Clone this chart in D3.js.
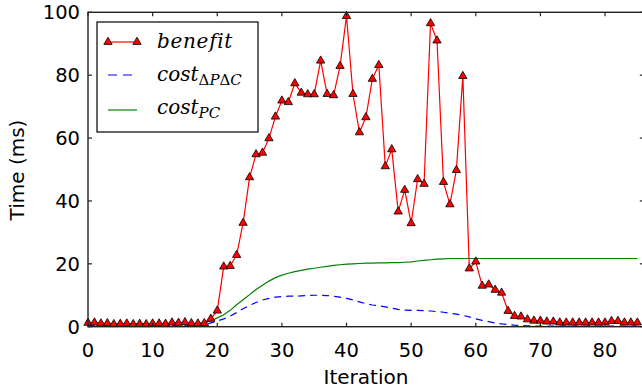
<!DOCTYPE html>
<html lang="en">
<head>
<meta charset="UTF-8">
<title>Time per iteration</title>
<script src="https://d3js.org/d3.v7.min.js"></script>
<style>
    body { margin: 0; background: #fff; }
    svg { display: block; }
    .tick-label { font-family: "DejaVu Sans", sans-serif; font-size: 19.5px; fill: #000; }
    .axis-title { font-family: "DejaVu Sans", sans-serif; font-size: 20px; fill: #000; }
    .legend-text { font-family: "DejaVu Serif", serif; font-style: italic; font-size: 20px; fill: #000; }
</style>
</head>
<body>
<div id="chart"></div>
<script>
    // iterations 0..85
    const iterations = d3.range(0, 86);

    const benefit = [
        1.2, 1.3, 1.0, 1.1, 0.8, 0.9, 1.0, 0.8, 0.9, 0.8, 1.0, 1.0, 0.9, 1.3, 1.2, 1.4, 1.1, 1.0, 1.1, 2.5,
        5.1, 19.1, 19.3, 22.8, 33.0, 47.5, 54.8, 55.3, 59.9, 66.8, 71.9, 71.4, 77.4, 74.4, 73.9, 73.9, 84.6, 74.0, 73.6, 82.9,
        98.8, 74.0, 61.8, 66.6, 78.8, 83.2, 51.0, 56.4, 36.6, 43.5, 32.9, 46.9, 45.4, 96.5, 91.0, 46.0, 38.9, 49.8, 79.7, 18.5,
        20.7, 13.0, 13.4, 11.7, 10.8, 5.0, 3.4, 3.2, 2.3, 1.9, 1.9, 1.6, 1.6, 1.3, 1.3, 1.3, 1.3, 1.3, 1.3, 1.3,
        1.3, 1.8, 1.8, 1.3, 1.3, 1.3
    ];

    const costDelta = [
        0.3, 0.3, 0.3, 0.3, 0.3, 0.3, 0.3, 0.3, 0.3, 0.3, 0.3, 0.3, 0.3, 0.3, 0.3, 0.3, 0.3, 0.3, 0.5, 1.2,
        1.8, 2.5, 3.4, 4.5, 5.7, 6.8, 7.7, 8.5, 9.0, 9.4, 9.6, 9.7, 9.7, 9.8, 9.9, 10.0, 10.0, 9.9, 9.7, 9.4,
        9.0, 8.5, 7.9, 7.3, 6.9, 6.7, 6.3, 5.9, 5.5, 5.3, 5.2, 5.2, 5.1, 5.0, 4.8, 4.6, 4.3, 4.0, 3.6, 3.1,
        2.5, 2.0, 1.6, 1.2, 0.9, 0.7, 0.5, 0.4, 0.3, 0.2, 0.2, 0.2, 0.2, 0.2, 0.2, 0.2, 0.2, 0.2, 0.2, 0.2,
        0.2, 0.2, 0.2, 0.2, 0.2, 0.2
    ];

    const costPC = [
        1.0, 1.0, 1.0, 1.0, 1.0, 1.0, 1.0, 1.0, 1.0, 1.0, 1.0, 1.0, 1.0, 1.0, 1.0, 1.0, 1.0, 1.1, 1.3, 1.8,
        2.8, 3.8, 5.2, 7.0, 8.6, 10.2, 11.8, 13.2, 14.5, 15.6, 16.4, 17.0, 17.5, 17.9, 18.3, 18.6, 18.9, 19.2, 19.5, 19.7,
        19.9, 20.0, 20.1, 20.2, 20.2, 20.3, 20.3, 20.4, 20.4, 20.5, 20.6, 20.9, 21.1, 21.3, 21.5, 21.6, 21.7, 21.7, 21.7, 21.7,
        21.7, 21.7, 21.7, 21.7, 21.7, 21.7, 21.7, 21.7, 21.7, 21.7, 21.7, 21.7, 21.7, 21.7, 21.7, 21.7, 21.7, 21.7, 21.7, 21.7,
        21.7, 21.7, 21.7, 21.7, 21.7, 21.7
    ];

    const xTicks = [0, 10, 20, 30, 40, 50, 60, 70, 80];
    const yTicks = [0, 20, 40, 60, 80, 100];

    const width = 642, height = 389;
    const pLeft = 88, pRight = 643.8, pTop = 12.3, pBottom = 326.7;

    const x = d3.scaleLinear().domain([0, 86]).range([pLeft, pRight]);
    const y = d3.scaleLinear().domain([0, 100]).range([pBottom, pTop]);

    const svg = d3.select("#chart").append("svg")
        .attr("width", width).attr("height", height);

    const line = series => d3.line()
        .x((d, i) => x(iterations[i]))
        .y(d => y(d))(series);

    // green cost_PC
    svg.append("path").attr("d", line(costPC))
        .attr("fill", "none").attr("stroke", "#008000").attr("stroke-width", 1.2);

    // blue dashed cost_dPdC
    svg.append("path").attr("d", line(costDelta))
        .attr("fill", "none").attr("stroke", "#0000ff").attr("stroke-width", 1.2)
        .attr("stroke-dasharray", "7,5");

    // red benefit with triangle markers
    svg.append("path").attr("d", line(benefit))
        .attr("fill", "none").attr("stroke", "#ff0000").attr("stroke-width", 1.2);

    const tri = d3.symbol().type(d3.symbolTriangle).size(30);
    svg.append("g").selectAll("path")
        .data(benefit)
        .join("path")
        .attr("d", tri)
        .attr("transform", (d, i) => `translate(${x(iterations[i])},${y(d)})`)
        .attr("fill", "#ff0000").attr("stroke", "#000").attr("stroke-width", 0.8);

    // frame
    svg.append("rect")
        .attr("x", pLeft).attr("y", pTop)
        .attr("width", pRight - pLeft).attr("height", pBottom - pTop)
        .attr("fill", "none").attr("stroke", "#222").attr("stroke-width", 1.4);

    // inward ticks
    const tk = svg.append("g").attr("stroke", "#222").attr("stroke-width", 1.2);
    xTicks.forEach(t => {
        tk.append("line").attr("x1", x(t)).attr("x2", x(t)).attr("y1", pBottom).attr("y2", pBottom - 4);
        tk.append("line").attr("x1", x(t)).attr("x2", x(t)).attr("y1", pTop).attr("y2", pTop + 4);
    });
    yTicks.forEach(t => {
        tk.append("line").attr("x1", pLeft).attr("x2", pLeft + 4).attr("y1", y(t)).attr("y2", y(t));
        tk.append("line").attr("x1", pRight).attr("x2", pRight - 4).attr("y1", y(t)).attr("y2", y(t));
    });

    svg.append("g").selectAll("text")
        .data(xTicks).join("text")
        .attr("class", "tick-label")
        .attr("x", d => x(d)).attr("y", pBottom + 30)
        .attr("text-anchor", "middle")
        .text(d => d);

    svg.append("g").selectAll("text")
        .data(yTicks).join("text")
        .attr("class", "tick-label")
        .attr("x", pLeft - 8).attr("y", d => y(d) + 7)
        .attr("text-anchor", "end")
        .text(d => d);

    svg.append("text").attr("class", "axis-title")
        .attr("x", 366).attr("y", 384)
        .attr("text-anchor", "middle").text("Iteration");

    svg.append("text").attr("class", "axis-title")
        .attr("transform", "translate(24,170) rotate(-90)")
        .attr("text-anchor", "middle").text("Time (ms)");

    // legend
    const lg = svg.append("g");
    lg.append("rect").attr("x", 97).attr("y", 22).attr("width", 161).attr("height", 110)
        .attr("fill", "#fff").attr("stroke", "#000").attr("stroke-width", 1.2);

    const hx0 = 108, hx1 = 137;
    lg.append("line").attr("x1", hx0).attr("x2", hx1).attr("y1", 42).attr("y2", 42)
        .attr("stroke", "#ff0000").attr("stroke-width", 1.2);
    [hx0, hx1].forEach(px => lg.append("path").attr("d", tri)
        .attr("transform", `translate(${px},42)`)
        .attr("fill", "#ff0000").attr("stroke", "#000").attr("stroke-width", 0.8));
    lg.append("line").attr("x1", hx0).attr("x2", hx1).attr("y1", 75).attr("y2", 75)
        .attr("stroke", "#0000ff").attr("stroke-width", 1.2).attr("stroke-dasharray", "9,6");
    lg.append("line").attr("x1", hx0).attr("x2", hx1).attr("y1", 110).attr("y2", 110)
        .attr("stroke", "#008000").attr("stroke-width", 1.2);

    lg.append("text").attr("class", "legend-text").attr("x", 157).attr("y", 48)
        .style("letter-spacing", "0.7px").text("benefit");

    const t2 = lg.append("text").attr("class", "legend-text").attr("x", 157).attr("y", 81);
    t2.append("tspan").text("cost");
    const s2 = t2.append("tspan").attr("dy", 4).style("font-size", "15px");
    s2.append("tspan").style("font-style", "normal").text("Δ");
    s2.append("tspan").text("P");
    s2.append("tspan").style("font-style", "normal").text("Δ");
    s2.append("tspan").text("C");

    const t3 = lg.append("text").attr("class", "legend-text").attr("x", 157).attr("y", 114);
    t3.append("tspan").text("cost");
    t3.append("tspan").attr("dy", 4).style("font-size", "15px").text("PC");
</script>
</body>
</html>
